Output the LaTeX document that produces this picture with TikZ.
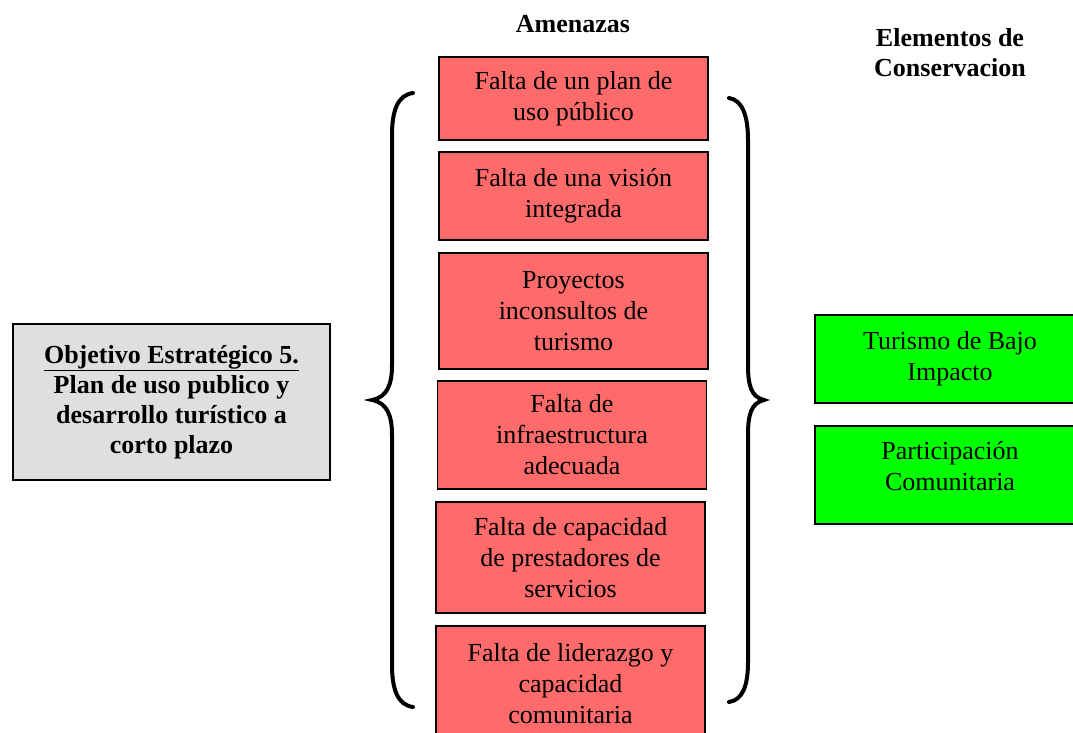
\documentclass[tikz,border=0pt]{standalone}
\usepackage{fontspec}
\setmainfont{Liberation Serif}
\usetikzlibrary{positioning}
\definecolor{threatred}{HTML}{FF6A6A}
\definecolor{targetgreen}{HTML}{00FF00}
\definecolor{goalgray}{HTML}{DFDFDF}
\tikzstyle{box}=[draw=black,line width=1.4,inner sep=0,align=center,
                 font=\fontsize{26}{31}\selectfont]
\tikzstyle{threat}=[box,fill=threatred,minimum width=269]
\tikzstyle{target}=[box,fill=targetgreen,minimum width=270]
\tikzstyle{goal}=[box,fill=goalgray,minimum width=317,minimum height=156,
                  font=\fontsize{26}{30}\selectfont\bfseries]
\tikzstyle{heading}=[inner sep=0,align=center,font=\fontsize{26}{30}\selectfont\bfseries]
\tikzstyle{brace}=[line width=4,line cap=round]

\begin{document}
\begin{tikzpicture}[x=1pt,y=-1pt]
  \useasboundingbox (0,0) rectangle (1073,733);
  
  % HEADINGS
  \node[heading] (amenazas) at (573,24) {Amenazas};
  \node[heading] (elementos) at (950,53) {Elementos de\\Conservacion};
  
  % OBJECTIVE
  \node[goal] (objetivo) at (171.5,402) {\underline{Objetivo Estratégico 5.}\\
    Plan de uso publico y\\desarrollo turístico a\\corto plazo};
  
  % THREATS
  \node[threat,minimum height=83]  (t1) at (573.5,98.5) {Falta de un plan de\\uso público};
  \node[threat,minimum height=88]  (t2) at (573.5,196) {Falta de una visión\\integrada};
  \node[threat,minimum height=116] (t3) at (573.5,311) {Proyectos\\inconsultos de\\turismo};
  \node[threat,minimum height=108] (t4) at (572,435) {Falta de\\infraestructura\\adecuada};
  \node[threat,minimum height=111] (t5) at (570.5,557.5) {Falta de capacidad\\de prestadores de\\servicios};
  \node[threat,minimum height=116] (t6) at (570.5,684) {Falta de liderazgo y\\capacidad\\comunitaria};
  
  % CONSERVATION TARGETS
  \node[target,minimum height=88] (c1) at (950,359) {Turismo de Bajo\\Impacto};
  \node[target,minimum height=98] (c2) at (950,475) {Participación\\Comunitaria\\[-12pt]};
  
  % BRACES
  \draw[brace] (413,93) .. controls (398,95) and (392,110) .. (392,135) -- (392,365)
    .. controls (392,385) and (387,397) .. (372,400)
    .. controls (387,403) and (392,415) .. (392,435) -- (392,665)
    .. controls (392,690) and (398,705) .. (413,707);
  \draw[brace] (729,98) .. controls (742,100) and (748,115) .. (748,140) -- (748,365)
    .. controls (748,385) and (751,397) .. (764,400)
    .. controls (751,403) and (748,415) .. (748,435) -- (748,662)
    .. controls (748,687) and (742,700) .. (729,702);
  
\end{tikzpicture}
\end{document}
